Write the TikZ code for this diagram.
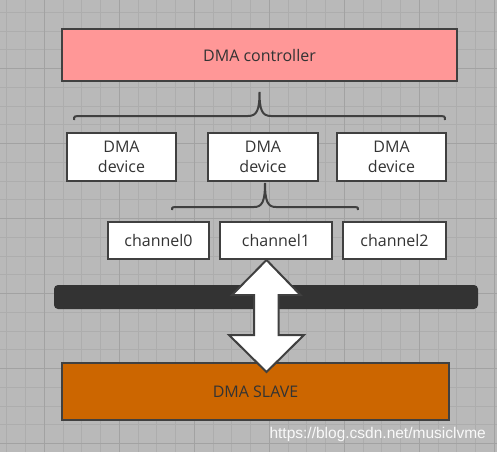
\documentclass[tikz,border=0pt]{standalone}
\usepackage{fontspec}
\setmainfont{Open Sans}
\newfontfamily\wmfont{Liberation Sans}
\usetikzlibrary{positioning}

\definecolor{bggray}{HTML}{B9B9B9}
\definecolor{gridminor}{HTML}{ADADAD}
\definecolor{gridmajor}{HTML}{A2A2A2}
\definecolor{edge}{HTML}{404040}
\definecolor{ink}{HTML}{333333}
\definecolor{ctrlred}{HTML}{FF9797}
\definecolor{slaveorange}{HTML}{CC6600}

\tikzset{
  box/.style={draw=edge, line width=2pt, fill=white, text=ink,
    font=\fontsize{16}{19.5}\selectfont, align=center, inner sep=0pt},
  bracket/.style={draw=edge, line width=2pt},
}

\begin{document}
\begin{tikzpicture}[x=1pt, y=-1pt]
				\useasboundingbox (0,0) rectangle (497,452);
				% Background and grid
				\fill[bggray] (0,0) rectangle (497,452);
				\foreach \i in {0,...,26}
					\draw[gridminor, line width=0.8pt] ({6.7+18.75*\i},0) -- ++(0,452);
				\foreach \j in {0,...,23}
					\draw[gridminor, line width=0.8pt] (0,{12.3+18.75*\j}) -- ++(497,0);
				\foreach \i in {0,...,6}
					\draw[gridmajor, line width=1pt] ({44.3+75*\i},0) -- ++(0,452);
				\foreach \j in {0,...,5}
					\draw[gridmajor, line width=1pt] (0,{68.6+75*\j}) -- ++(497,0);
				% Controller
				\node[box, fill=ctrlred, minimum width=395, minimum height=52] (ctrl) at (259.5,55) {DMA controller};
				% Devices
				\node[box, minimum width=109, minimum height=48] (dev1) at (121.5,157) {DMA\\device};
				\node[box, minimum width=110, minimum height=48] (dev2) at (263,157) {DMA\\device};
				\node[box, minimum width=109, minimum height=48] (dev3) at (391.5,157) {DMA\\device};
				% Channels
				\node[box, minimum width=101, minimum height=37] (ch0) at (158.5,240.5) {channel0};
				\node[box, minimum width=112, minimum height=37] (ch1) at (276,240.5) {channel1};
				\node[box, minimum width=103, minimum height=37] (ch2) at (394.5,240.5) {channel2};
				% Braces
				\draw[bracket] (74,120) .. controls (74,116) .. (82,116) -- (248,116)
					.. controls (257,116) and (259.5,110) .. (259.5,92)
					.. controls (259.5,110) and (262,116) .. (271,116) -- (437,116)
					.. controls (445,116) .. (445,120);
				\draw[bracket] (172,210) .. controls (172,207) .. (179,207) -- (254,207)
					.. controls (262,207) and (265,202) .. (265,183)
					.. controls (265,202) and (268,207) .. (276,207) -- (351,207)
					.. controls (358,207) .. (358,210);
				% Bus
				\node[fill=ink, rounded corners=4pt, minimum width=424, minimum height=24, inner sep=0pt] (bus) at (266,297) {};
				% Slave
				\node[box, fill=slaveorange, minimum width=387, minimum height=57] (slave) at (255.5,391.5) {DMA SLAVE};
				% Double arrow
				\draw[edge, fill=white, line width=2pt, line join=miter]
					(266.5,260) -- (300.5,295) -- (278.5,295) -- (278.5,335) -- (304,335)
					-- (266.5,372) -- (229,335) -- (254,335) -- (254,295) -- (232,295) -- cycle;
				% Watermark
				\node[anchor=base east, inner sep=0pt, text=white!92!bggray, font=\wmfont\fontsize{15.5}{18}\selectfont] (mark) at (486,438) {https://blog.csdn.net/musiclvme};
			\end{tikzpicture}
\end{document}
